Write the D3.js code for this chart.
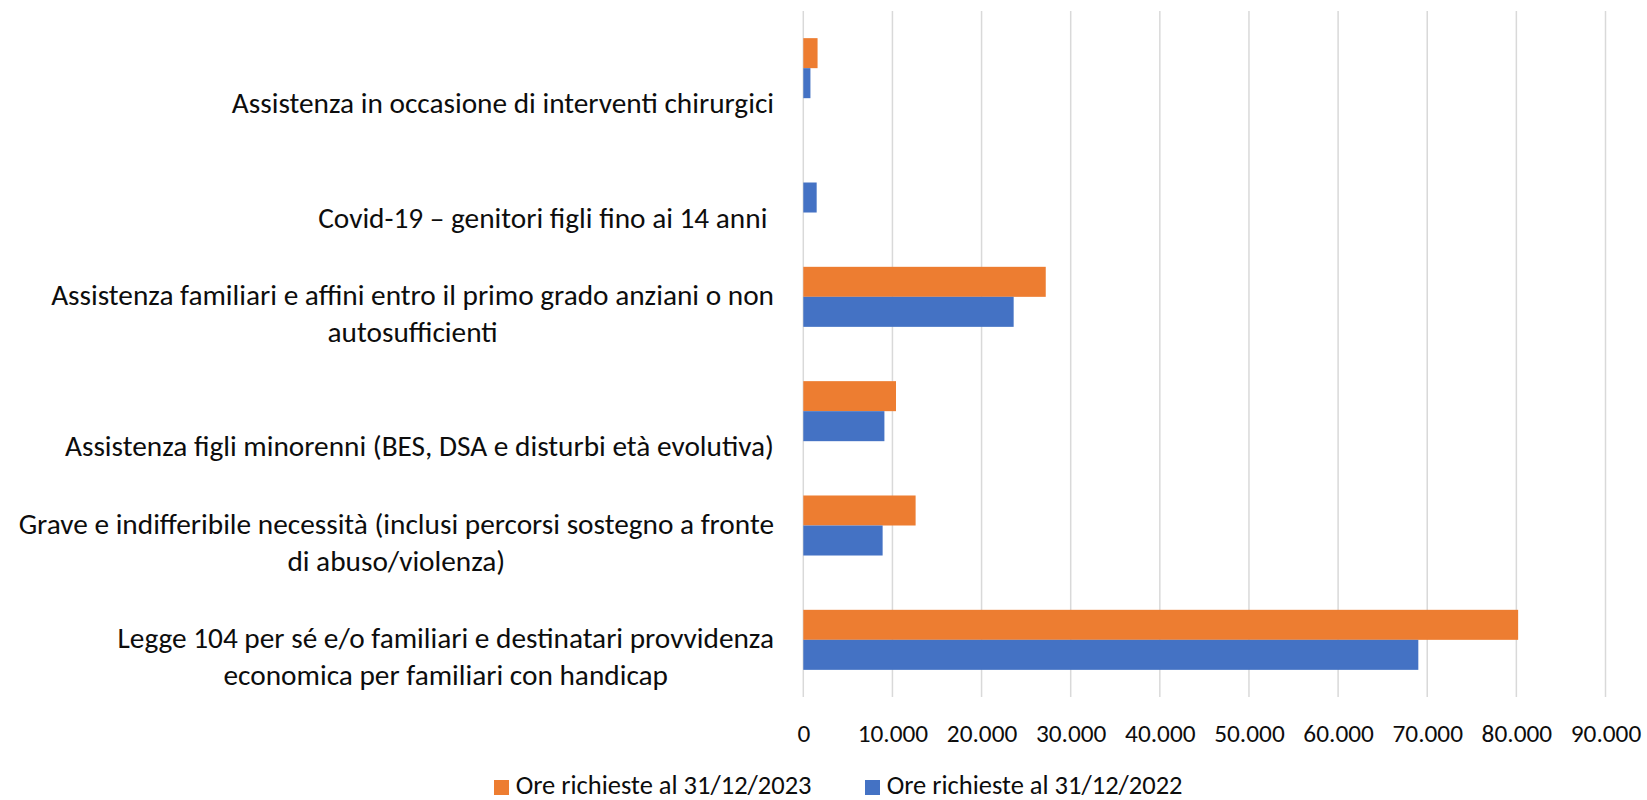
<!DOCTYPE html>
<html>
<head>
<meta charset="utf-8">
<script src="https://cdn.jsdelivr.net/npm/d3@7"></script>
<style>
  html, body { margin: 0; padding: 0; background: #fff; }
  text { font-family: Calibri, Carlito, "Liberation Sans", sans-serif; fill: #0d0d0d; }
</style>
</head>
<body>
<svg id="chart" width="1647" height="800"></svg>
<script>
// ---- data (top to bottom as shown) ----
const categories = [
  ["", "Assistenza in occasione di interventi chirurgici"],
  ["", "Covid-19 \u2013 genitori figli fino ai 14 anni "],
  ["Assistenza familiari e affini entro il primo grado anziani o non", "autosufficienti"],
  ["", "Assistenza figli minorenni (BES, DSA e disturbi et\u00e0 evolutiva)"],
  ["Grave e indifferibile necessit\u00e0 (inclusi percorsi sostegno a fronte", "di abuso/violenza)"],
  ["Legge 104 per s\u00e9 e/o familiari e destinatari provvidenza", "economica per familiari con handicap"]
];
const seriesNames = ["Ore richieste al 31/12/2023", "Ore richieste al 31/12/2022"];
const seriesColors = ["#ED7D31", "#4472C4"];
const values2023 = [1600, 0, 27200, 10400, 12600, 80200];
const values2022 = [800, 1500, 23600, 9100, 8900, 69000];
const xTicks = [0, 10000, 20000, 30000, 40000, 50000, 60000, 70000, 80000, 90000];

const seriesValues = [values2023, values2022];
const svg = d3.select("#chart");

const plot = { left: 803.3, right: 1605.5, top: 11, bottom: 697 };

const x = d3.scaleLinear().domain([0, 90000]).range([plot.left, plot.right]);
const y = d3.scaleBand().domain(d3.range(categories.length))
  .range([plot.top, plot.bottom]).paddingInner(0.475).paddingOuter(0.2375);
const ySub = d3.scaleBand().domain([0, 1]).range([0, y.bandwidth()]);

const locale = d3.formatLocale({ decimal: ",", thousands: ".", grouping: [3], currency: ["", "€"] });
const fmt = locale.format(",d");

// gridlines
svg.append("g").selectAll("line").data(xTicks).join("line")
  .attr("x1", d => x(d)).attr("x2", d => x(d))
  .attr("y1", plot.top).attr("y2", plot.bottom)
  .attr("stroke", "#d9d9d9").attr("stroke-width", 1.5);

// x axis tick labels via d3 axis
const xAxis = d3.axisBottom(x).tickValues(xTicks).tickFormat(fmt).tickSize(0).tickPadding(0);
const gx = svg.append("g").attr("transform", `translate(0, 723)`).call(xAxis);
gx.select(".domain").remove();
gx.selectAll("text").attr("dy", null).attr("y", 18.7)
  .style("font-family", "Calibri, Carlito, sans-serif").style("font-size", "25.3px").attr("fill", "#0d0d0d");

// bars
seriesValues.forEach((vals, si) => {
  svg.append("g").selectAll("rect").data(vals).join("rect")
    .attr("x", x(0))
    .attr("y", (d, i) => y(i) + ySub(si))
    .attr("width", d => x(d) - x(0))
    .attr("height", ySub.bandwidth())
    .attr("fill", seriesColors[si]);
});

// category labels: block right-aligned at labelRight, lines centered within block
const lineH = 36.8;
const labelRight = 774;
const labelG = svg.append("g");
categories.forEach((lines, i) => {
  const cy = y(i) + y.bandwidth() / 2;
  const t = labelG.append("text")
    .attr("text-anchor", "middle")
    .style("font-size", "29.3px")
    .style("white-space", "pre");
  const spans = lines.map((ln, li) =>
    t.append("tspan").attr("y", cy + 8.5 + li * lineH).text(ln));
  const maxW = d3.max(spans, s => s.node().getComputedTextLength());
  spans.forEach(s => s.attr("x", labelRight - maxW / 2));
});

// legend
const legendX = [494, 865];
seriesNames.forEach((name, si) => {
  const g = svg.append("g").attr("transform", `translate(${legendX[si]}, 0)`);
  g.append("rect").attr("x", 0).attr("y", 780).attr("width", 15).attr("height", 15).attr("fill", seriesColors[si]);
  g.append("text").attr("x", 21.7).attr("y", 794.3).style("font-size", "26.5px").text(name);
});
</script>
</body>
</html>
